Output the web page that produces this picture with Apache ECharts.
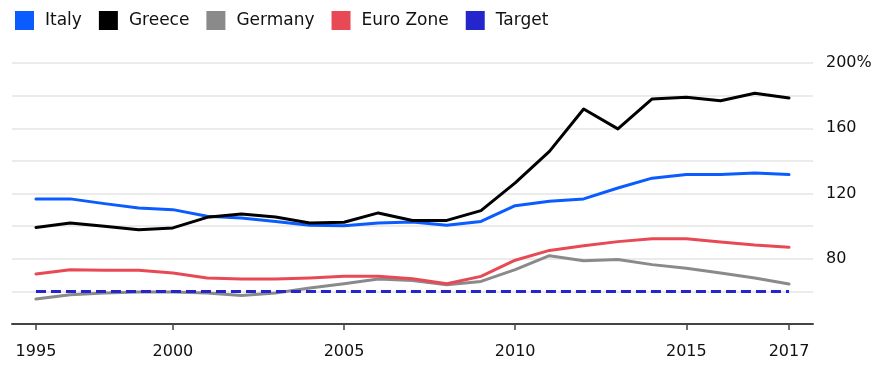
<!DOCTYPE html>
<html>
<head>
<meta charset="utf-8">
<script src="https://cdn.jsdelivr.net/npm/echarts@6/dist/echarts.min.js"></script>
<style>
    html, body { margin: 0; padding: 0; background: #fff; }
    #main { width: 886px; height: 377px; }
</style>
</head>
<body>
<div id="main"></div>
<script>
//年份（数据按年末标注）
var years = [1995, 1996, 1997, 1998, 1999, 2000, 2001, 2002, 2003, 2004, 2005, 2006,
    2007, 2008, 2009, 2010, 2011, 2012, 2013, 2014, 2015, 2016, 2017];

var italy = [116.7, 116.7, 113.8, 111.1, 110.1, 106.0, 105.0, 102.9, 100.5, 100.3, 101.9, 102.6,
    100.5, 102.9, 112.5, 115.2, 116.7, 123.4, 129.4, 131.6, 131.6, 132.6, 131.6];
var greece = [99.2, 101.9, 99.9, 97.8, 98.9, 105.4, 107.5, 105.6, 101.9, 102.4, 108.1, 103.5,
    103.5, 109.5, 126.5, 145.8, 171.8, 159.6, 178.0, 179.0, 176.9, 181.4, 178.6];
var germany = [55.3, 58.0, 59.0, 59.6, 59.6, 59.0, 57.4, 59.0, 62.1, 64.7, 67.6, 66.7,
    64.1, 66.1, 73.3, 81.9, 78.8, 79.6, 76.4, 74.2, 71.3, 68.2, 64.5];
var euroZone = [70.7, 73.3, 72.9, 72.9, 71.3, 68.2, 67.6, 67.6, 68.2, 69.2, 69.2, 67.8,
    64.7, 69.2, 79.1, 85.1, 88.0, 90.5, 92.3, 92.3, 90.3, 88.4, 87.0];
var target = [60, 60, 60, 60, 60, 60, 60, 60, 60, 60, 60, 60,
    60, 60, 60, 60, 60, 60, 60, 60, 60, 60, 60];

//x轴刻度位置和文字
var tickPos = [1995, 1999, 2004, 2009, 2014, 2017];
var tickLabels = ['1995', '2000', '2005', '2010', '2015', '2017'];
//y轴显示的标签
var yLabels = [80, 120, 160, 200];

var font = 'DejaVu Sans';

function pairs(values) {
    return years.map(function (y, i) { return [y, values[i]]; });
}

function lineSeries(name, values, color, dashed) {
    return {
        name: name,
        type: 'line',
        data: pairs(values),
        symbol: 'none',
        silent: true,
        lineStyle: {
            color: color,
            width: 3,
            type: dashed ? [10, 5] : 'solid',
            join: 'round',
            cap: dashed ? 'butt' : 'round'
        },
        itemStyle: { color: color }
    };
}

var myChart = echarts.init(document.getElementById('main'));
var option = {
    animation: false,
    legend: {
        left: 10,
        top: 6,
        icon: 'rect',
        itemWidth: 19,
        itemHeight: 19,
        itemGap: 17,
        selectedMode: false,
        textStyle: {
            fontFamily: font,
            fontSize: 17,
            color: '#111',
            padding: [0, 0, 0, 6]
        },
        data: ['Italy', 'Greece', 'Germany', 'Euro Zone', 'Target']
    },
    grid: {
        left: 12,
        right: 73,
        top: 63,
        bottom: 53
    },
    xAxis: {
        type: 'value',
        min: 1994.3,
        max: 2017.7,
        splitLine: { show: false },
        axisLine: {
            show: true,
            lineStyle: { color: '#444', width: 2 }
        },
        axisTick: {
            show: true,
            customValues: tickPos,
            length: 6,
            lineStyle: { color: '#444', width: 1.5 }
        },
        axisLabel: {
            customValues: tickPos,
            margin: 20,
            fontFamily: font,
            fontSize: 16,
            color: '#111',
            formatter: function (v) {
                return tickLabels[tickPos.indexOf(v)];
            }
        }
    },
    yAxis: {
        type: 'value',
        position: 'right',
        min: 40,
        max: 200,
        interval: 20,
        axisLine: { show: false },
        axisTick: { show: false },
        splitLine: {
            lineStyle: { color: '#ebebeb', width: 2 }
        },
        axisLabel: {
            margin: 13,
            fontFamily: font,
            fontSize: 16,
            color: '#111',
            formatter: function (v) {
                if (yLabels.indexOf(v) < 0) return '';
                return v === 200 ? v + '%' : String(v);
            }
        }
    },
    series: [
        lineSeries('Italy', italy, '#0a5cff'),
        lineSeries('Greece', greece, '#000000'),
        lineSeries('Germany', germany, '#8a8a8a'),
        lineSeries('Euro Zone', euroZone, '#e84a55'),
        lineSeries('Target', target, '#2525cc', true)
    ]
};
myChart.setOption(option, true);
</script>
</body>
</html>
